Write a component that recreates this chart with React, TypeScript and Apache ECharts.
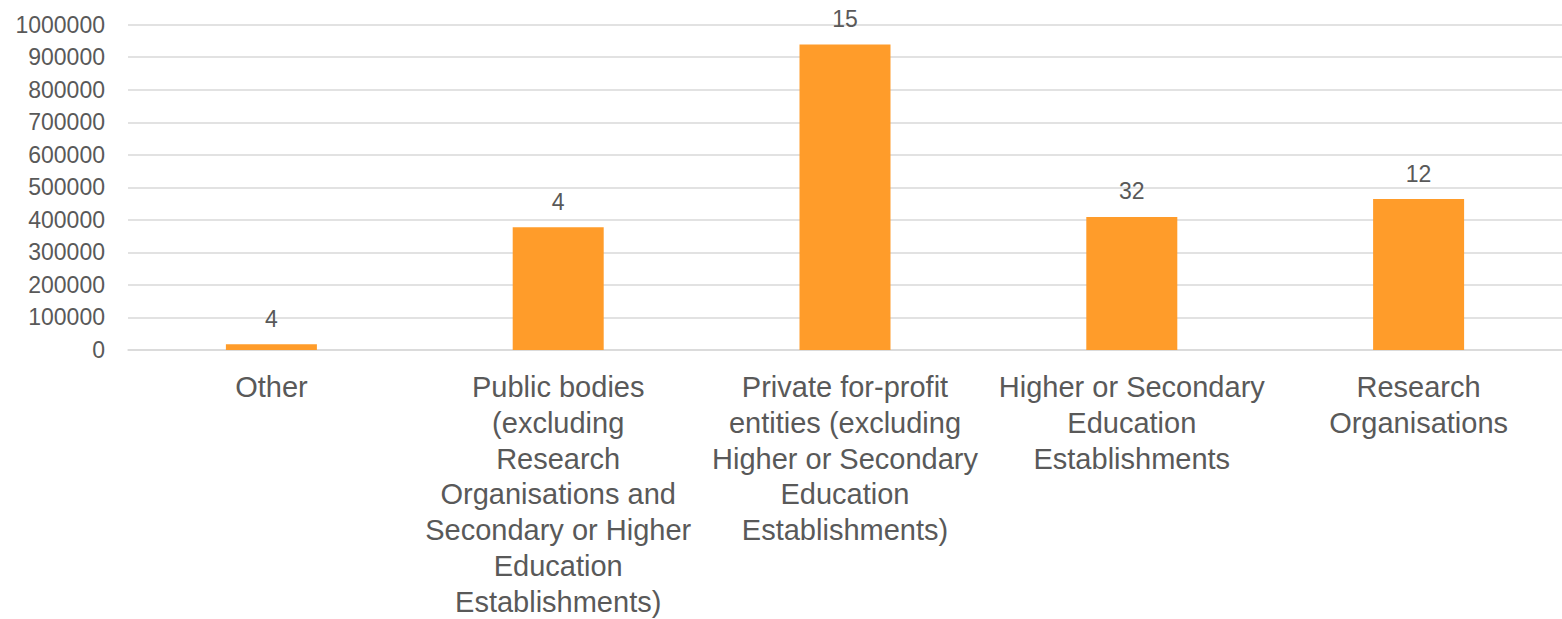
import React, { useEffect, useRef } from "react";
import * as echarts from "echarts";

const categories = [
  "Other",
  "Public bodies\n(excluding\nResearch\nOrganisations and\nSecondary or Higher\nEducation\nEstablishments)",
  "Private for-profit\nentities (excluding\nHigher or Secondary\nEducation\nEstablishments)",
  "Higher or Secondary\nEducation\nEstablishments",
  "Research\nOrganisations",
];
const amounts = [18000, 377000, 939000, 409000, 464000];
const counts = [4, 4, 15, 32, 12];

const FONT = "'Liberation Sans', Arial, sans-serif";
const TEXT = "#595959";

export default function App() {
  const ref = useRef<HTMLDivElement>(null);
  useEffect(() => {
    document.body.style.margin = "0";
    const chart = echarts.init(ref.current!, null, { renderer: "svg" });
    chart.setOption({
      animation: false,
      grid: {
        left: 128,
        right: 0,
        top: 24.7,
        bottom: 269,
        containLabel: false,
        outerBoundsMode: "none",
      },
      xAxis: {
        type: "category",
        data: categories,
        axisLine: { show: true, lineStyle: { color: "#d9d9d9", width: 1.5 } },
        axisTick: { show: false },
        axisLabel: {
          interval: 0,
          color: TEXT,
          fontFamily: FONT,
          fontSize: 29,
          lineHeight: 35.8,
          margin: 19,
          align: "center",
        },
      },
      yAxis: {
        type: "value",
        min: 0,
        max: 1000000,
        interval: 100000,
        axisLine: { show: false },
        axisTick: { show: false },
        splitLine: { lineStyle: { color: "#d9d9d9", width: 1.5 } },
        axisLabel: {
          color: TEXT,
          fontFamily: FONT,
          fontSize: 23,
          margin: 23,
          formatter: (v: number) => String(v),
        },
      },
      series: [
        {
          type: "bar",
          data: amounts,
          barWidth: 91,
          itemStyle: { color: "#FF9C2A" },
          label: {
            show: true,
            position: "top",
            distance: 14,
            color: TEXT,
            fontFamily: FONT,
            fontSize: 23,
            formatter: (p: any) => String(counts[p.dataIndex]),
          },
        },
      ],
    });
    return () => chart.dispose();
  }, []);
  return (
    <div
      ref={ref}
      style={{ position: "fixed", left: 0, top: 0, width: 1562, height: 619, background: "#fff" }}
    />
  );
}
